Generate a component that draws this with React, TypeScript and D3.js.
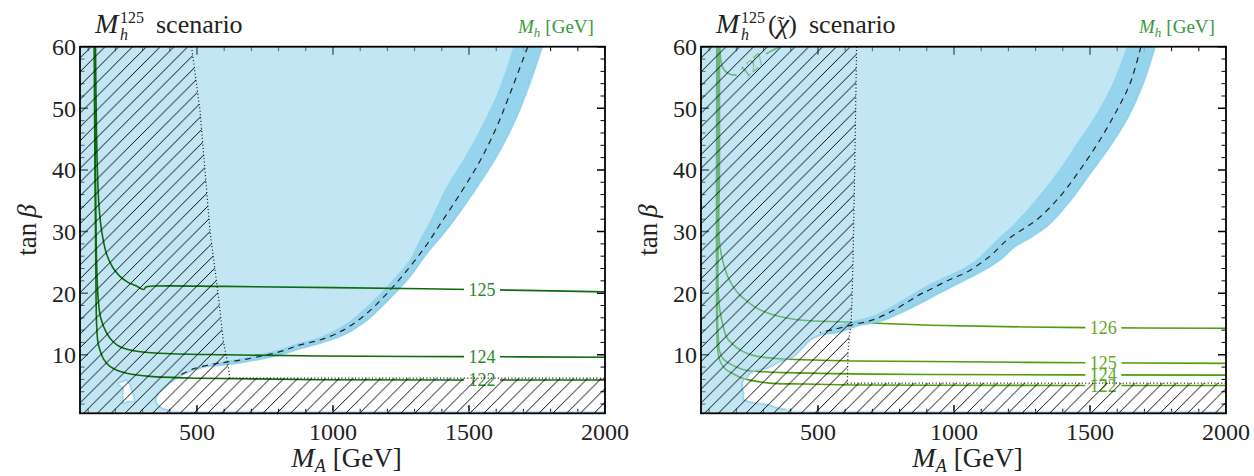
import React from 'react';
import * as d3 from 'd3';

type P = [number, number];

// ---------- shared axes ----------
const X_DOMAIN: P = [70, 2000];
const Y_DOMAIN: P = [0.5, 60];
const X_TICKS_MAJOR = [500, 1000, 1500, 2000];
const Y_TICKS_MAJOR = [10, 20, 30, 40, 50, 60];
const STRIP_TB = 0.9;

// ---------- left panel (M_h^125) ----------
const L_EDGE: P[] = [[1769, 60], [1724, 54.1], [1675, 48.6], [1614, 43.2], [1547, 38.4], [1479, 34.0], [1410, 29.9], [1370, 27.8], [1330, 25.6], [1283, 22.7], [1210, 19.2], [1124, 15.6], [1038, 13.2], [952, 11.9], [879, 11.0], [805, 10.0], [683, 8.9], [609, 8.4], [536, 8.1], [474, 7.3], [425, 6.2], [382, 4.8], [354, 3.5], [349, 2.4], [364, 1.5], [395, 1.0]];
const L_BAND_IN: P[] = [[1663, 60], [1614, 53.5], [1553, 47.6], [1485, 42.1], [1418, 37.3], [1355, 31.5], [1318, 28.6], [1283, 25.5], [1210, 21.7], [1124, 17.8], [1038, 14.8], [952, 12.9], [879, 12.0], [805, 10.9], [683, 9.6], [609, 9.0], [536, 8.3], [480, 7.5]];
const L_DASH: P[] = [[1716, 60], [1651, 52.4], [1602, 47], [1541, 41.5], [1467, 36.1], [1394, 31.2], [1342, 27.7], [1283, 24.3], [1210, 20.5], [1124, 16.7], [1038, 14.0], [952, 12.4], [879, 11.6], [805, 10.5], [683, 9.3], [609, 8.8], [560, 8.5], [486, 7.7], [438, 6.7]];
const L_HOLE: P[] = [[211, 5.4], [242, 5.9], [254, 5.1], [266, 3.5], [272, 2.4], [248, 2.4], [229, 2.1], [227, 3.5], [229, 4.6], [211, 5.1]];
const L_HATCH_EDGE: P[] = [[480, 60], [511, 49.7], [548, 30.1], [554, 28], [578, 19.8], [597, 12.2], [615, 8.1], [621, 6.2], [2000, 6.2]];
const L_C125: P[] = [[127, 60], [130, 48], [134, 40], [140, 34], [150, 30], [168, 26.3], [190, 24.2], [215, 22.8], [245, 21.8], [275, 21.2], [305, 20.6], [312, 21.0], [340, 21.15], [600, 21.1], [1000, 20.9], [1500, 20.6], [2000, 20.2]];
const L_C124: P[] = [[124, 60], [127, 40], [131, 25], [137, 19], [146, 16], [168, 13.5], [190, 12.2], [217, 11.3], [250, 10.8], [291, 10.5], [389, 10.2], [600, 10.0], [952, 9.8], [1479, 9.7], [2000, 9.6]];
const L_C122: P[] = [[122, 60], [125, 40], [128, 25], [131, 15], [136, 12], [143, 10.8], [158, 9.2], [180, 8.1], [210, 7.4], [242, 7.0], [327, 6.5], [511, 6.2], [952, 5.95], [2000, 5.9]];
const L_LABELS = [
  { text: '125', ma: 1548, tb: 20.55, angle: 0 },
  { text: '124', ma: 1548, tb: 9.7, angle: 0 },
  { text: '122', ma: 1548, tb: 5.95, angle: 0 },
];

// ---------- right panel (M_h^125(chi)) ----------
const R_EDGE: P[] = [[1739, 60], [1696, 54.1], [1640, 48.6], [1580, 44.3], [1500, 39.4], [1420, 34.6], [1345, 31.0], [1280, 29.0], [1225, 27.6], [1169, 25.4], [1120, 24.0], [1075, 22.9], [1034, 22.0], [990, 21.0], [950, 20.1], [899, 18.9], [813, 17.0], [727, 15.4], [653, 14.8], [580, 13.7], [507, 13.2], [471, 12.4], [446, 11.3], [410, 9.7], [360, 8.9], [311, 7.8], [275, 7.5], [250, 7.0], [238, 6.2], [226, 5.9], [220, 4.8], [226, 3.7], [226, 2.7], [244, 2.4], [275, 2.1], [311, 1.9], [348, 1.4], [385, 1.1]];
const R_BAND_IN: P[] = [[1635, 60], [1584, 54.1], [1525, 49.2], [1451, 44.3], [1377, 39.4], [1290, 34.6], [1215, 31.0], [1165, 29.0], [1120, 27.0], [1070, 25.0], [1010, 23.5], [950, 22.3], [890, 21.0], [800, 18.6], [710, 16.5], [630, 15.5], [557, 14.6], [515, 13.6]];
const R_DASH: P[] = [[1687, 60], [1648, 54.1], [1599, 49.7], [1537, 44.9], [1463, 40], [1390, 35.7], [1304, 31.9], [1240, 30.0], [1194, 28.6], [1140, 26.3], [1096, 24.8], [1047, 23.4], [1000, 22.5], [961, 21.7], [912, 20.6], [875, 19.8], [789, 17.5], [704, 15.7], [630, 14.9], [557, 14.1], [507, 13.6]];
const R_HATCH_EDGE: P[] = [[642, 60], [635, 40], [630, 28], [627, 22], [622, 15], [615, 13], [610, 10], [608, 5.4], [2000, 5.4]];
const R_C127: P[] = [[139, 60], [143, 57.8], [151, 56.5], [169, 55.7], [200, 55.4], [230, 56.2], [260, 57.4], [311, 58.9], [360, 60]];
const R_C126: P[] = [[138, 60], [138, 40], [137, 28.6], [149, 25.4], [165, 23], [185, 21.3], [210, 19.8], [234, 18.9], [270, 17.7], [320, 16.7], [380, 16.0], [442, 15.6], [615, 15.3], [912, 14.8], [1482, 14.4], [2000, 14.3]];
const R_C125: P[] = [[134, 60], [133, 30], [133, 20.5], [140, 17], [149, 15.1], [165, 12.8], [198, 11.3], [240, 10.2], [283, 9.7], [360, 9.35], [442, 9.2], [626, 9.0], [912, 8.9], [1488, 8.7], [2000, 8.6]];
const R_C124: P[] = [[131, 60], [130, 30], [131, 15], [134, 12.5], [137, 10.8], [150, 9.4], [174, 8.6], [200, 8.0], [234, 7.5], [300, 7.25], [381, 7.1], [626, 6.9], [912, 6.8], [2000, 6.7]];
const R_C122: P[] = [[128, 60], [127, 30], [128, 15], [131, 11], [138, 9.2], [150, 8.2], [165, 7.5], [185, 7.0], [222, 6.2], [260, 5.8], [320, 5.4], [450, 5.25], [626, 5.1], [912, 5.05], [2000, 5.0]];
const R_LABELS = [
  { text: '127', ma: 258, tb: 57.0, angle: -40 },
  { text: '126', ma: 1549, tb: 14.4, angle: 0 },
  { text: '125', ma: 1549, tb: 8.7, angle: 0 },
  { text: '124', ma: 1549, tb: 6.8, angle: 0 },
  { text: '122', ma: 1549, tb: 5.05, angle: 0 },
];

const FONT = "'Liberation Serif', 'DejaVu Serif', serif";
const SKY = '#87ceeb';
const Y_TOP = 46.7;
const Y_BOT = 413.3;

type PanelProps = {
  id: string;
  x0: number;
  x1: number;
  edge: P[];
  bandIn: P[];
  bandMinTb: number;
  dash: P[];
  hatchEdge: P[];
  holes: P[][];
  contours: P[][];
  labels: { text: string; ma: number; tb: number; angle: number }[];
  lineColor: string;
  labelColor: string;
  linesOnTop: boolean;
};

function Panel(p: PanelProps) {
  const x = d3.scaleLinear().domain(X_DOMAIN).range([p.x0, p.x1]);
  const y = d3.scaleLinear().domain(Y_DOMAIN).range([Y_BOT, Y_TOP]);
  const lin = d3.line<P>().x((d) => x(d[0])).y((d) => y(d[1]));
  const smooth = d3
    .line<P>()
    .x((d) => x(d[0]))
    .y((d) => y(d[1]))
    .curve(d3.curveCatmullRom.alpha(0.5));
  const cont = (pts: P[]) => (smooth(pts) || '').replace(/^M/, 'L');
  const [xmin, xmax] = X_DOMAIN;
  const [ymin, ymax] = Y_DOMAIN;
  const last = p.edge[p.edge.length - 1];
  const corners: P[] = [last, [last[0] + 30, STRIP_TB], [xmax, STRIP_TB], [xmax, ymin], [xmin, ymin], [xmin, ymax], p.edge[0]];
  const exclPath =
    (smooth(p.edge) || '') +
    (lin(corners) || '').replace(/^M/, 'L') +
    'Z' +
    p.holes.map((h) => lin(h) + 'Z').join('');
  const bandOuter = p.edge.filter((d) => d[1] >= p.bandMinTb);
  const bandPath = (smooth(bandOuter) || '') + cont(p.bandIn.slice().reverse()) + 'Z';
  const hatchPath = lin([...p.hatchEdge, [xmax, ymin], [xmin, ymin], [xmin, ymax]]) + 'Z';

  const minorX = d3.range(100, 2001, 100).filter((v) => v % 500 !== 0);
  const minorY = d3.range(2, 61, 2).filter((v) => v % 10 !== 0);
  const w = p.x1 - p.x0;
  const h = Y_BOT - Y_TOP;

  const ticks = (
    <g stroke="#000">
      {X_TICKS_MAJOR.map((v) => (
        <g key={'xM' + v} strokeWidth={1.5}>
          <line x1={x(v)} x2={x(v)} y1={Y_BOT} y2={Y_BOT - 8} />
          <line x1={x(v)} x2={x(v)} y1={Y_TOP} y2={Y_TOP + 8} />
        </g>
      ))}
      {minorX.map((v) => (
        <g key={'xm' + v} strokeWidth={1}>
          <line x1={x(v)} x2={x(v)} y1={Y_BOT} y2={Y_BOT - 4.5} />
          <line x1={x(v)} x2={x(v)} y1={Y_TOP} y2={Y_TOP + 4.5} />
        </g>
      ))}
      {Y_TICKS_MAJOR.map((v) => (
        <g key={'yM' + v} strokeWidth={1.5}>
          <line x1={p.x0} x2={p.x0 + 8} y1={y(v)} y2={y(v)} />
          <line x1={p.x1} x2={p.x1 - 8} y1={y(v)} y2={y(v)} />
        </g>
      ))}
      {minorY.map((v) => (
        <g key={'ym' + v} strokeWidth={1}>
          <line x1={p.x0} x2={p.x0 + 4.5} y1={y(v)} y2={y(v)} />
          <line x1={p.x1} x2={p.x1 - 4.5} y1={y(v)} y2={y(v)} />
        </g>
      ))}
    </g>
  );

  const lines = (
    <g>
      <g mask={`url(#mask-${p.id})`}>
        {p.contours.map((c, i) => (
          <path key={i} d={smooth(c) || ''} fill="none" stroke={p.lineColor} strokeWidth={1.6} />
        ))}
      </g>
      {p.labels.map((l, i) => (
        <text
          key={i}
          x={x(l.ma)}
          y={y(l.tb)}
          dy="0.35em"
          textAnchor="middle"
          fontFamily={FONT}
          fontSize={18}
          fill={p.labelColor}
          transform={`rotate(${l.angle},${x(l.ma)},${y(l.tb)})`}
        >
          {l.text}
        </text>
      ))}
    </g>
  );

  return (
    <g>
      <defs>
        <clipPath id={`clip-${p.id}`}>
          <rect x={p.x0} y={Y_TOP} width={w} height={h} />
        </clipPath>
        <pattern id={`hatch-${p.id}`} patternUnits="userSpaceOnUse" width={13.8} height={13.8}>
          <path d="M-3.45,3.45 L3.45,-3.45 M0,13.8 L13.8,0 M10.35,17.25 L17.25,10.35" stroke="#000" strokeWidth={0.95} />
        </pattern>
        <mask id={`mask-${p.id}`} maskUnits="userSpaceOnUse" x={0} y={0} width={1254} height={476}>
          <rect x={0} y={0} width={1254} height={476} fill="#fff" />
          {p.labels.map((l, i) => (
            <rect
              key={i}
              x={x(l.ma) - 18}
              y={y(l.tb) - 8}
              width={36}
              height={16}
              fill="#000"
              transform={`rotate(${l.angle},${x(l.ma)},${y(l.tb)})`}
            />
          ))}
        </mask>
      </defs>
      <rect x={p.x0} y={Y_TOP} width={w} height={h} fill="#fff" />
      <g clipPath={`url(#clip-${p.id})`}>
        {ticks}
        {!p.linesOnTop && lines}
        <path d={exclPath} fill={SKY} fillOpacity={0.5} fillRule="evenodd" />
        <path d={bandPath} fill={SKY} fillOpacity={0.75} />
        <path d={smooth(p.edge) || ''} fill="none" stroke={SKY} strokeWidth={1.8} strokeOpacity={0.8} />
        {p.holes.map((hl, i) => (
          <path key={i} d={lin(hl) + 'Z'} fill="none" stroke={SKY} strokeWidth={1.5} strokeOpacity={0.8} />
        ))}
        <path d={smooth(p.dash) || ''} fill="none" stroke="#222" strokeWidth={1.2} strokeDasharray="6 5" />
        {p.linesOnTop && lines}
        <path d={hatchPath} fill={`url(#hatch-${p.id})`} />
        <path d={lin(p.hatchEdge) || ''} fill="none" stroke="#111" strokeWidth={1.2} strokeDasharray="1 2.4" />
      </g>
      <rect x={p.x0} y={Y_TOP} width={w} height={h} fill="none" stroke="#000" strokeWidth={1.8} />
      <g fontFamily={FONT} fontSize={24} fill="#222">
        {X_TICKS_MAJOR.map((v) => (
          <text key={v} x={x(v)} y={440} textAnchor="middle">
            {v}
          </text>
        ))}
        {Y_TICKS_MAJOR.map((v) => (
          <text key={v} x={p.x0 - 4} y={y(v)} dy="0.35em" textAnchor="end">
            {v}
          </text>
        ))}
      </g>
      {/* axis labels */}
      <text x={(p.x0 + p.x1) / 2 + 4} y={467} textAnchor="middle" fontFamily={FONT} fill="#222">
        <tspan fontStyle="italic" fontSize={28}>M</tspan>
        <tspan fontStyle="italic" fontSize={18} dy={5}>A</tspan>
        <tspan fontSize={27} dy={-5} dx={7}>[GeV]</tspan>
      </text>
      <text
        x={p.x0 - 44}
        y={(Y_TOP + Y_BOT) / 2}
        transform={`rotate(-90,${p.x0 - 44},${(Y_TOP + Y_BOT) / 2})`}
        textAnchor="middle"
        fontFamily={FONT}
        fontSize={27}
        fill="#222"
      >
        <tspan>tan</tspan>
        <tspan fontStyle="italic" dx={5}>β</tspan>
      </text>
      {/* M_h [GeV] green */}
      <text x={p.x1 - 87} y={33} fontFamily={FONT} fill="#3a9a3a">
        <tspan fontStyle="italic" fontSize={19}>M</tspan>
        <tspan fontStyle="italic" fontSize={13} dy={4}>h</tspan>
        <tspan fontSize={19} dy={-4} dx={5}>[GeV]</tspan>
      </text>
    </g>
  );
}

export default function App() {
  return (
    <svg width={1254} height={476} style={{ position: 'absolute', left: 0, top: 0, background: '#fff' }}>
      <rect width={1254} height={476} fill="#fff" />
      <Panel
        id="L"
        x0={80}
        x1={605}
        edge={L_EDGE}
        bandIn={L_BAND_IN}
        bandMinTb={7.3}
        dash={L_DASH}
        hatchEdge={L_HATCH_EDGE}
        holes={[L_HOLE]}
        contours={[L_C125, L_C124, L_C122]}
        labels={L_LABELS}
        lineColor="#0d6b0d"
        labelColor="#2a8a2a"
        linesOnTop={true}
      />
      <Panel
        id="R"
        x0={701}
        x1={1226}
        edge={R_EDGE}
        bandIn={R_BAND_IN}
        bandMinTb={13.2}
        dash={R_DASH}
        hatchEdge={R_HATCH_EDGE}
        holes={[]}
        contours={[R_C127, R_C126, R_C125, R_C124, R_C122]}
        labels={R_LABELS}
        lineColor="#4f9d0a"
        labelColor="#62a822"
        linesOnTop={false}
      />
      {/* titles */}
      <g fontFamily={FONT} fill="#222">
        <text x={95} y={33} fontStyle="italic" fontSize={28}>M</text>
        <text x={120} y={23} fontSize={16}>125</text>
        <text x={120} y={40} fontStyle="italic" fontSize={16}>h</text>
        <text x={156} y={33} fontSize={26}>scenario</text>

        <text x={716} y={33} fontStyle="italic" fontSize={28}>M</text>
        <text x={741} y={23} fontSize={16}>125</text>
        <text x={741} y={40} fontStyle="italic" fontSize={16}>h</text>
        <text x={768} y={33} fontSize={26}>
          (<tspan fontStyle="italic" fontSize={28}>χ</tspan>
          <tspan fontSize={22} dx={-12} dy={-2}>{'\u02DC'}</tspan>
          <tspan dx={4} dy={2}>)</tspan>
        </text>
        <text x={809} y={33} fontSize={26}>scenario</text>
      </g>
    </svg>
  );
}
